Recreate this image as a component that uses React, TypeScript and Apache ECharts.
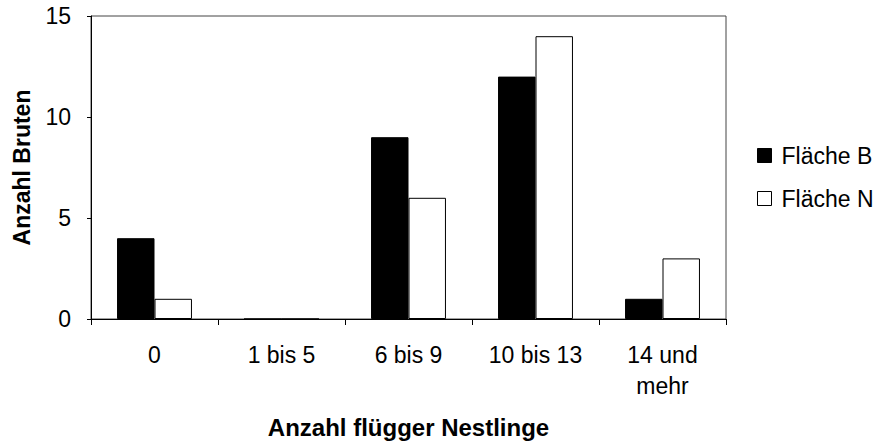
import React, { useEffect, useRef } from "react";
import * as echarts from "echarts";

const categories = ["0", "1 bis 5", "6 bis 9", "10 bis 13", "14 und\nmehr"];
const flaecheB = [4, 0, 9, 12, 1];
const flaecheN = [1, 0, 6, 14, 3];
const yTicks = { min: 0, max: 15, interval: 5 };

const FONT = "'Liberation Sans', Arial, sans-serif";

export default function App() {
  const ref = useRef<HTMLDivElement>(null);
  useEffect(() => {
    if (!ref.current) return;
    const chart = echarts.init(ref.current, null, { renderer: "svg" });
    chart.setOption({
      animation: false,
      backgroundColor: "#fff",
      textStyle: { fontFamily: FONT },
      grid: {
        left: 91,
        right: 147,
        top: 16,
        bottom: 122,
        show: true,
        borderColor: "#444",
        borderWidth: 1,
        backgroundColor: "transparent",
      },
      legend: {
        orient: "vertical",
        left: 752,
        top: 139,
        itemWidth: 14,
        itemHeight: 14,
        itemGap: 20,
        icon: "rect",
        textStyle: { fontSize: 23, color: "#000", fontFamily: FONT, padding: [0, 0, 0, 5] },
        data: [
          { name: "Fläche B", itemStyle: { color: "#000", borderColor: "#000", borderWidth: 1 } },
          { name: "Fläche N", itemStyle: { color: "#fff", borderColor: "#000", borderWidth: 1 } },
        ],
      },
      xAxis: {
        type: "category",
        data: categories,
        name: "Anzahl flügger Nestlinge",
        nameLocation: "middle",
        nameGap: 96,
        nameTextStyle: { fontSize: 24, fontWeight: "bold", color: "#000", fontFamily: FONT },
        axisLine: { show: true, lineStyle: { color: "#000", width: 1 } },
        axisTick: { show: true, length: 6, lineStyle: { color: "#000" } },
        axisLabel: {
          fontSize: 23,
          color: "#000",
          margin: 20,
          lineHeight: 31,
          fontFamily: FONT,
        },
      },
      yAxis: {
        type: "value",
        min: yTicks.min,
        max: yTicks.max,
        interval: yTicks.interval,
        name: "Anzahl Bruten",
        nameLocation: "middle",
        nameGap: 58,
        nameRotate: 90,
        nameTextStyle: { fontSize: 23, fontWeight: "bold", color: "#000", fontFamily: FONT },
        axisLine: { show: true, lineStyle: { color: "#000", width: 1 } },
        axisTick: { show: true, length: 4, lineStyle: { color: "#000" } },
        splitLine: { show: false },
        axisLabel: { fontSize: 23, color: "#000", margin: 20, fontFamily: FONT },
      },
      series: [
        {
          name: "Fläche B",
          type: "bar",
          data: flaecheB,
          barGap: "0%",
          barCategoryGap: "41%",
          itemStyle: { color: "#000", borderColor: "#000", borderWidth: 1 },
        },
        {
          name: "Fläche N",
          type: "bar",
          data: flaecheN,
          barGap: "0%",
          barCategoryGap: "41%",
          itemStyle: { color: "#fff", borderColor: "#000", borderWidth: 1 },
        },
      ],
    });
    return () => chart.dispose();
  }, []);
  return (
    <div
      ref={ref}
      style={{ position: "absolute", left: 0, top: 0, width: 873, height: 444 }}
    />
  );
}
